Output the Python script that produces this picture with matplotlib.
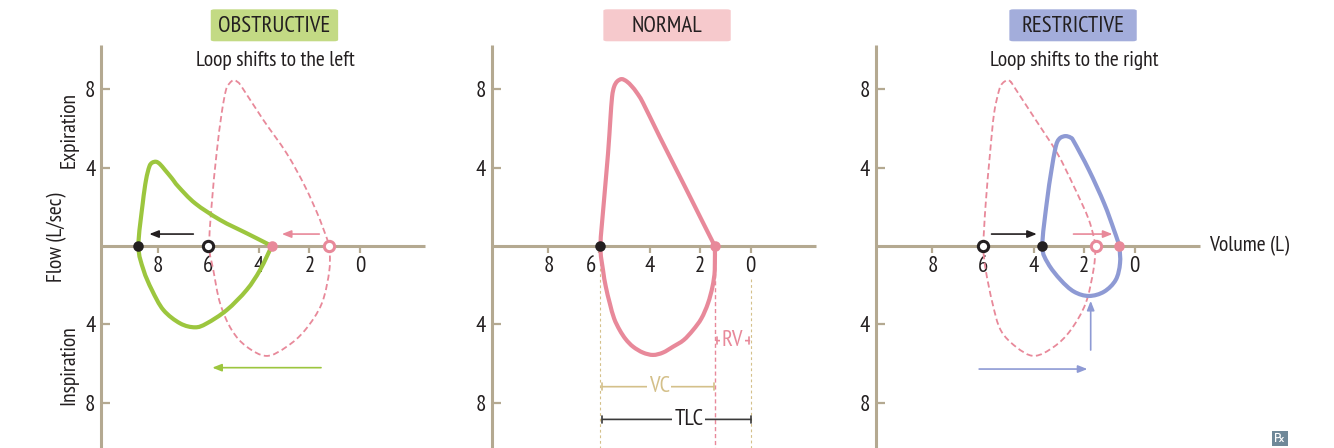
import matplotlib
matplotlib.use('Agg')
import matplotlib.pyplot as plt
from matplotlib import font_manager
from matplotlib.patches import FancyBboxPatch, Rectangle, PathPatch
from matplotlib.path import Path
import matplotlib.transforms as mtransforms

avail = {f.name for f in font_manager.fontManager.ttflist}
FONT = next(f for f in ['Myriad Pro', 'PT Sans Narrow', 'Fira Sans Condensed', 'Roboto Condensed',
                        'Asap Condensed', 'IBM Plex Sans Condensed', 'Open Sans'] if f in avail)
plt.rcParams['font.family'] = [FONT, 'DejaVu Sans']

# ---------------- data ----------------
panel_titles = ['OBSTRUCTIVE', 'NORMAL', 'RESTRICTIVE']
panel_subtitles = ['Loop shifts to the left', '', 'Loop shifts to the right']
x_ticks = [8, 6, 4, 2, 0]
x_tick_labels = ['8', '6', '4', '2', '0']
y_ticks = [8, 4, -4, -8]
y_tick_labels = ['8', '4', '4', '8']

# normal loop (middle panel)
normal_vol = [5.94, 5.81, 5.64, 5.55, 5.48, 5.40, 5.28, 5.10, 4.90, 4.70, 4.50, 4.26, 3.60, 2.60, 1.94, 1.42,
              1.42, 1.51, 1.69, 1.95, 2.28, 2.65, 3.07, 3.47, 3.86, 4.26, 4.65, 4.94, 5.18, 5.40, 5.57, 5.73, 5.84, 5.94]
normal_flow = [0, 2.18, 4.73, 6.43, 7.62, 8.13, 8.40, 8.52, 8.40, 8.15, 7.82, 7.31, 5.58, 3.03, 1.33, 0,
               -1.22, -2.07, -2.93, -3.70, -4.29, -4.80, -5.14, -5.44, -5.56, -5.44, -5.14, -4.76, -4.29, -3.70, -2.93, -2.07, -1.22, 0]

# obstructive loop
obst_vol = [8.76, 8.59, 8.46, 8.33, 8.22, 8.06, 7.91, 7.71, 7.44, 7.18, 6.52, 5.53, 4.48, 3.82, 3.49,
            3.95, 4.48, 5.27, 6.06, 6.52, 7.11, 7.77, 8.23, 8.56, 8.76]
obst_flow = [0, 2.18, 3.37, 4.05, 4.25, 4.30, 4.18, 3.88, 3.46, 3.03, 2.18, 1.33, 0.65, 0.22, 0,
             -1.22, -2.24, -3.27, -3.95, -4.15, -3.95, -3.27, -2.24, -1.22, 0]
# normal reference loop as drawn in the obstructive panel
obst_ref_vol = [5.96, 5.86, 5.67, 5.47, 5.30, 5.16, 5.00, 4.85, 4.68, 3.82, 2.90, 2.17, 1.58, 1.21,
                1.21, 1.51, 2.17, 2.90, 3.69, 4.48, 5.07, 5.53, 5.80, 5.96]
obst_ref_flow = [0, 2.18, 4.73, 6.77, 7.96, 8.30, 8.47, 8.38, 8.13, 6.43, 4.73, 3.03, 1.33, 0,
                 -1.22, -2.93, -4.29, -5.14, -5.61, -5.14, -4.29, -2.93, -1.22, 0]

# restrictive loop
rest_vol = [3.65, 3.48, 3.29, 3.15, 3.06, 2.93, 2.73, 2.53, 2.40, 1.81, 1.21, 0.82, 0.62,
            0.58, 0.75, 1.21, 1.81, 2.40, 2.93, 3.43, 3.65]
rest_flow = [0, 2.18, 3.88, 4.90, 5.32, 5.53, 5.61, 5.53, 5.32, 3.88, 2.18, 0.82, 0,
             -0.88, -1.73, -2.33, -2.55, -2.33, -1.73, -0.88, 0]
# normal reference loop as drawn in the restrictive panel
rest_ref_vol = [5.98, 5.89, 5.72, 5.56, 5.36, 5.23, 5.03, 4.90, 4.77, 3.91, 3.06, 2.40, 1.81, 1.54,
                1.63, 1.94, 2.53, 3.19, 3.98, 4.70, 5.30, 5.62, 5.89, 5.98]
rest_ref_flow = [0, 2.18, 4.73, 6.77, 7.96, 8.30, 8.47, 8.38, 8.13, 6.43, 4.73, 3.03, 1.33, 0,
                 -1.22, -2.93, -4.29, -5.14, -5.61, -5.14, -4.29, -2.93, -1.22, 0]

# markers on the volume axis: (volume, kind)
obst_points = [(8.76, 'black'), (6.0, 'black_open'), (3.49, 'pink'), (1.21, 'pink_open')]
normal_points = [(5.94, 'black'), (1.42, 'pink')]
rest_points = [(5.98, 'black_open'), (3.65, 'black'), (1.54, 'pink_open'), (0.62, 'pink')]

# arrows: (vol_start, flow_start, vol_end, flow_end, kind)
obst_arrows = [(6.59, 0.61, 8.33, 0.61, 'black'), (1.61, 0.61, 3.09, 0.61, 'pink'),
               (1.54, -6.21, 5.84, -6.21, 'green')]
rest_arrows = [(5.66, 0.61, 3.87, 0.61, 'black'), (2.42, 0.61, 0.88, 0.61, 'pink'),
               (6.15, -6.28, 1.87, -6.28, 'blue'), (1.74, -5.31, 1.74, -2.80, 'blue')]

# normal-panel volume annotations
TLC_value = 5.94
RV_value = 1.42
VC_flow_level = -7.18
TLC_flow_level = -8.85
RV_flow_level = -4.83

# ---------------- style ----------------
AX = '#b4a991'
GREEN = '#9cc63e'
PINK = '#e8899a'
BLUE = '#8e9ad4'
TAN = '#d4c08a'
DARK = '#231f20'
col = {'black': DARK, 'pink': PINK, 'green': GREEN, 'blue': BLUE}
box_col = ['#c3da84', '#f6c9cc', '#a3addb']

W, H = 1334, 448
fig = plt.figure(figsize=(W / 100, H / 100), dpi=100)

spine_px = [101, 491.7, 875.7]
ax_w = 324
ax_top = 45
FS = 15.5
TICK_FS = 16.5

axes = []
for i, L in enumerate(spine_px):
    ax = fig.add_axes([L / W, 0, ax_w / W, (H - ax_top) / H])
    ax.set_xlim(10.24, -2.57)
    ax.set_ylim(-10.31, 10.26)
    ax.patch.set_alpha(0)
    for s in ['top', 'right']:
        ax.spines[s].set_visible(False)
    ax.spines['bottom'].set_position(('data', 0))
    for s in ['left', 'bottom']:
        ax.spines[s].set_color(AX)
        ax.spines[s].set_linewidth(2.2)
        ax.spines[s].set_capstyle('butt')
    ax.set_xticks(x_ticks, x_tick_labels)
    ax.set_yticks(y_ticks, y_tick_labels)
    ax.tick_params(axis='x', direction='out', length=5, width=1.6, color=AX, pad=2,
                   labelsize=TICK_FS, labelcolor=DARK)
    ax.tick_params(axis='y', direction='in', length=6.5, width=1.6, color=AX, pad=4,
                   labelsize=TICK_FS, labelcolor=DARK)
    axes.append(ax)

# the "6" label of the middle panel sits slightly left of its tick in the reference
lab6 = axes[1].get_xticklabels()[1]
lab6.set_transform(lab6.get_transform() + mtransforms.ScaledTranslation(-8 / 100, 0, fig.dpi_scale_trans))

LOOP_LW = 3.0


def smooth_loop(ax, xs, ys, corners=(), **kw):
    """Draw a closed loop through the read points as a smooth Bezier path."""
    pts = list(zip(xs, ys))
    if pts[0] == pts[-1]:
        pts = pts[:-1]
    n = len(pts)
    verts = [pts[0]]
    codes = [Path.MOVETO]
    for i in range(n):
        p0, p1, p2, p3 = pts[i - 1], pts[i], pts[(i + 1) % n], pts[(i + 2) % n]
        t1 = (0, 0) if i in corners else ((p2[0] - p0[0]) / 6, (p2[1] - p0[1]) / 6)
        t2 = (0, 0) if (i + 1) % n in corners else ((p3[0] - p1[0]) / 6, (p3[1] - p1[1]) / 6)
        verts += [(p1[0] + t1[0], p1[1] + t1[1]), (p2[0] - t2[0], p2[1] - t2[1]), p2]
        codes += [Path.CURVE4] * 3
    ax.add_patch(PathPatch(Path(verts, codes), fill=False, **kw))


REF_KW = dict(ec=PINK, lw=1.3, ls=(0, (3.4, 1.9)), zorder=3)


def draw_points(ax, pts):
    for v, kind in pts:
        c = DARK if kind.startswith('black') else PINK
        if kind.endswith('open'):
            ax.plot([v], [0], 'o', ms=7.4, mfc='white', mec=c, mew=2.2, zorder=6, clip_on=False)
        else:
            ax.plot([v], [0], 'o', ms=7.6, mfc=c, mec=c, mew=0, zorder=6, clip_on=False)


def draw_arrows(ax, arrs):
    for v0, f0, v1, f1, kind in arrs:
        ax.annotate('', xy=(v1, f1), xytext=(v0, f0),
                    arrowprops=dict(arrowstyle='-|>,head_length=0.55,head_width=0.22',
                                    color=col[kind], lw=1.2, shrinkA=0, shrinkB=0),
                    zorder=5)


# Panel 1 - obstructive
ax = axes[0]
smooth_loop(ax, obst_ref_vol, obst_ref_flow, corners=(13,), **REF_KW)
smooth_loop(ax, obst_vol, obst_flow, corners=(14,), ec=GREEN, lw=LOOP_LW, zorder=4, joinstyle='round')
draw_points(ax, obst_points)
draw_arrows(ax, obst_arrows)

# Panel 2 - normal
ax = axes[1]
ax.plot([TLC_value, TLC_value], [0, -10.31], color=TAN, lw=0.8, ls=(0, (2.5, 2.5)), zorder=1)
ax.plot([RV_value, RV_value], [0, -10.31], color=PINK, lw=1.0, ls=(0, (3, 2)), zorder=1)
ax.plot([0, 0], [-1.7, -10.31], color=TAN, lw=0.8, ls=(0, (2.5, 2.5)), zorder=1)
smooth_loop(ax, normal_vol, normal_flow, corners=(15,), ec=PINK, lw=LOOP_LW, zorder=4, joinstyle='round')
draw_points(ax, normal_points)


def span(ax, v0, v1, f, c, label, lab_v, tc):
    ax.annotate('', xy=(v1, f), xytext=(v0, f),
                arrowprops=dict(arrowstyle='|-|,widthA=0.25,widthB=0.25', color=c, lw=1.2,
                                shrinkA=0, shrinkB=0), zorder=3)
    ax.text(lab_v, f, label, color=tc, fontsize=FS + 1, ha='center', va='center', zorder=4,
            bbox=dict(boxstyle='square,pad=0.08', fc='white', ec='none'))


span(ax, TLC_value - 0.08, RV_value + 0.05, VC_flow_level, TAN, 'VC', 3.62, TAN)
span(ax, TLC_value - 0.08, 0.0, TLC_flow_level, '#3a3a3a', 'TLC', 2.45, DARK)
span(ax, RV_value - 0.07, 0.05, RV_flow_level, PINK, 'RV', 0.72, PINK)

# Panel 3 - restrictive
ax = axes[2]
smooth_loop(ax, rest_ref_vol, rest_ref_flow, corners=(13,), **REF_KW)
smooth_loop(ax, rest_vol, rest_flow, ec=BLUE, lw=LOOP_LW, zorder=4, joinstyle='round')
draw_points(ax, rest_points)
draw_arrows(ax, rest_arrows)

# Titles
box_x = [210.7, 603.3, 1009.3]
box_w, box_h, box_y = 127.5, 36, 7.3
for i in range(3):
    bx = box_x[i]
    fig.patches.append(FancyBboxPatch(((bx + 3) / W, 1 - (box_y + box_h - 3) / H),
                                      (box_w - 6) / W, (box_h - 6) / H,
                                      boxstyle='round,pad=0.0022,rounding_size=0.003',
                                      transform=fig.transFigure, fc=box_col[i], ec='none'))
    fig.text((bx + box_w / 2) / W, 1 - (box_y + box_h / 2 + 1) / H, panel_titles[i],
             ha='center', va='center', fontsize=16.5, color=DARK, weight='medium')
    if panel_subtitles[i]:
        fig.text((bx + box_w / 2 + 1) / W, 1 - 60 / H, panel_subtitles[i], ha='center',
                 va='center', fontsize=FS, color=DARK)

# y labels
fig.text(69 / W, 1 - 130 / H, 'Expiration', rotation=90, ha='center', va='center', fontsize=FS, color=DARK)
fig.text(57 / W, 1 - 237 / H, 'Flow (L/sec)', rotation=90, ha='center', va='center', fontsize=FS, color=DARK)
fig.text(69 / W, 1 - 365 / H, 'Inspiration', rotation=90, ha='center', va='center', fontsize=FS, color=DARK)
fig.text(1209 / W, 1 - 246 / H, 'Volume (L)', ha='left', va='center', fontsize=FS, color=DARK)

# Rx logo
fig.patches.append(Rectangle((1272 / W, 1 - 446 / H), 15.5 / W, 15.5 / H,
                             transform=fig.transFigure, fc='#6f8898', ec='none'))
fig.text(1279.7 / W, 1 - 438.5 / H, '\u211E', ha='center', va='center', fontsize=9,
         color='white', family='DejaVu Sans')

fig.savefig('out.png', dpi=100)
